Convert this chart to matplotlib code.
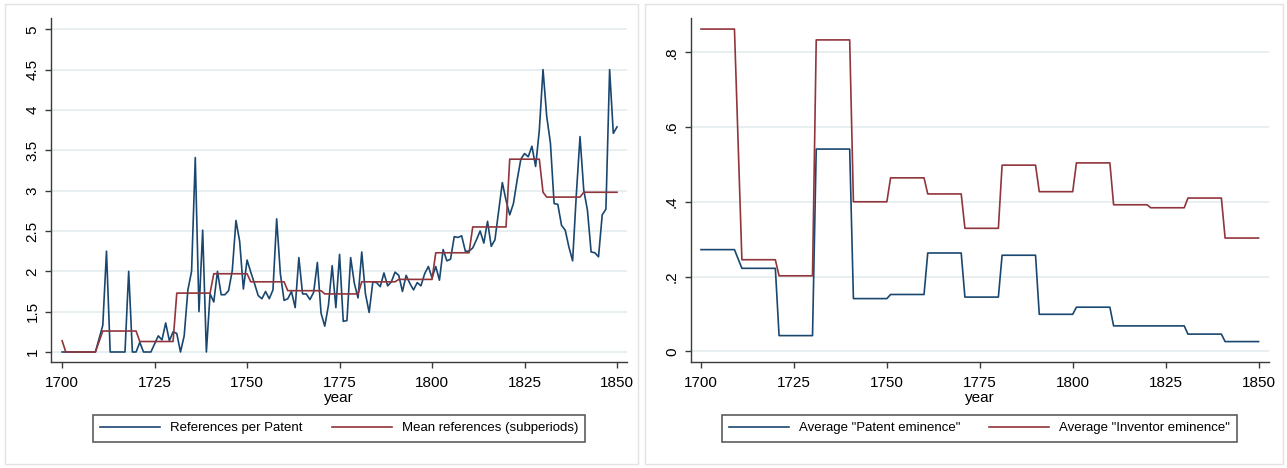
#!/usr/bin/env python3
"""References per patent and eminence measures by year, 1700-1850."""
import matplotlib.pyplot as plt
from matplotlib.patches import Rectangle

plt.rcParams['font.family'] = ['Liberation Sans', 'DejaVu Sans']

# no observations for 1710
years = list(range(1700, 1710)) + list(range(1711, 1851))

refs_per_patent = [
    1.00, 1.00, 1.00, 1.00, 1.00, 1.00, 1.00, 1.00, 1.00, 1.00,
    1.33, 2.25, 1.00, 1.00, 1.00, 1.00, 1.00, 2.00, 1.00, 1.00,
    1.12, 1.00, 1.00, 1.00, 1.10, 1.20, 1.15, 1.36, 1.14, 1.25,
    1.23, 1.00, 1.20, 1.77, 2.00, 3.41, 1.50, 2.51, 1.00, 1.72,
    1.62, 2.00, 1.71, 1.71, 1.76, 2.01, 2.63, 2.37, 1.78, 2.14,
    1.99, 1.85, 1.70, 1.66, 1.75, 1.66, 1.77, 2.65, 1.97, 1.64,
    1.66, 1.75, 1.55, 2.17, 1.72, 1.72, 1.65, 1.74, 2.11, 1.48,
    1.32, 1.58, 2.07, 1.55, 2.21, 1.38, 1.39, 2.17, 1.85, 1.67,
    2.24, 1.72, 1.49, 1.87, 1.86, 1.81, 1.98, 1.82, 1.87, 1.99,
    1.95, 1.75, 1.95, 1.85, 1.77, 1.86, 1.82, 1.97, 2.06, 1.92,
    2.06, 1.89, 2.27, 2.13, 2.15, 2.43, 2.42, 2.44, 2.25, 2.25,
    2.29, 2.39, 2.50, 2.35, 2.62, 2.31, 2.39, 2.74, 3.10, 2.88,
    2.70, 2.84, 3.13, 3.39, 3.46, 3.42, 3.55, 3.30, 3.75, 4.50,
    3.92, 3.59, 2.84, 2.83, 2.57, 2.51, 2.30, 2.13, 2.95, 3.67,
    3.01, 2.76, 2.24, 2.23, 2.18, 2.70, 2.77, 4.50, 3.71, 3.79,
]

mean_refs = [
    1.14, 1.00, 1.00, 1.00, 1.00, 1.00, 1.00, 1.00, 1.00, 1.00,
    1.26, 1.26, 1.26, 1.26, 1.26, 1.26, 1.26, 1.26, 1.26, 1.26,
    1.13, 1.13, 1.13, 1.13, 1.13, 1.13, 1.13, 1.13, 1.13, 1.13,
    1.73, 1.73, 1.73, 1.73, 1.73, 1.73, 1.73, 1.73, 1.73, 1.73,
    1.97, 1.97, 1.97, 1.97, 1.97, 1.97, 1.97, 1.97, 1.97, 1.97,
    1.87, 1.87, 1.87, 1.87, 1.87, 1.87, 1.87, 1.87, 1.87, 1.87,
    1.76, 1.76, 1.76, 1.76, 1.76, 1.76, 1.76, 1.76, 1.76, 1.76,
    1.72, 1.72, 1.72, 1.72, 1.72, 1.72, 1.72, 1.72, 1.72, 1.72,
    1.87, 1.87, 1.87, 1.87, 1.87, 1.87, 1.87, 1.87, 1.87, 1.87,
    1.90, 1.90, 1.90, 1.90, 1.90, 1.90, 1.90, 1.90, 1.90, 1.90,
    2.23, 2.23, 2.23, 2.23, 2.23, 2.23, 2.23, 2.23, 2.23, 2.23,
    2.55, 2.55, 2.55, 2.55, 2.55, 2.55, 2.55, 2.55, 2.55, 2.55,
    3.39, 3.39, 3.39, 3.39, 3.39, 3.39, 3.39, 3.39, 3.39, 2.98,
    2.92, 2.92, 2.92, 2.92, 2.92, 2.92, 2.92, 2.92, 2.92, 2.92,
    2.98, 2.98, 2.98, 2.98, 2.98, 2.98, 2.98, 2.98, 2.98, 2.98,
]

patent_eminence = [
    0.272, 0.272, 0.272, 0.272, 0.272, 0.272, 0.272, 0.272, 0.272, 0.272,
    0.222, 0.222, 0.222, 0.222, 0.222, 0.222, 0.222, 0.222, 0.222, 0.222,
    0.042, 0.042, 0.042, 0.042, 0.042, 0.042, 0.042, 0.042, 0.042, 0.042,
    0.541, 0.541, 0.541, 0.541, 0.541, 0.541, 0.541, 0.541, 0.541, 0.541,
    0.141, 0.141, 0.141, 0.141, 0.141, 0.141, 0.141, 0.141, 0.141, 0.141,
    0.152, 0.152, 0.152, 0.152, 0.152, 0.152, 0.152, 0.152, 0.152, 0.152,
    0.263, 0.263, 0.263, 0.263, 0.263, 0.263, 0.263, 0.263, 0.263, 0.263,
    0.145, 0.145, 0.145, 0.145, 0.145, 0.145, 0.145, 0.145, 0.145, 0.145,
    0.257, 0.257, 0.257, 0.257, 0.257, 0.257, 0.257, 0.257, 0.257, 0.257,
    0.099, 0.099, 0.099, 0.099, 0.099, 0.099, 0.099, 0.099, 0.099, 0.099,
    0.118, 0.118, 0.118, 0.118, 0.118, 0.118, 0.118, 0.118, 0.118, 0.118,
    0.068, 0.068, 0.068, 0.068, 0.068, 0.068, 0.068, 0.068, 0.068, 0.068,
    0.068, 0.068, 0.068, 0.068, 0.068, 0.068, 0.068, 0.068, 0.068, 0.068,
    0.046, 0.046, 0.046, 0.046, 0.046, 0.046, 0.046, 0.046, 0.046, 0.046,
    0.026, 0.026, 0.026, 0.026, 0.026, 0.026, 0.026, 0.026, 0.026, 0.026,
]

inventor_eminence = [
    0.862, 0.862, 0.862, 0.862, 0.862, 0.862, 0.862, 0.862, 0.862, 0.862,
    0.245, 0.245, 0.245, 0.245, 0.245, 0.245, 0.245, 0.245, 0.245, 0.245,
    0.202, 0.202, 0.202, 0.202, 0.202, 0.202, 0.202, 0.202, 0.202, 0.202,
    0.833, 0.833, 0.833, 0.833, 0.833, 0.833, 0.833, 0.833, 0.833, 0.833,
    0.400, 0.400, 0.400, 0.400, 0.400, 0.400, 0.400, 0.400, 0.400, 0.400,
    0.464, 0.464, 0.464, 0.464, 0.464, 0.464, 0.464, 0.464, 0.464, 0.464,
    0.421, 0.421, 0.421, 0.421, 0.421, 0.421, 0.421, 0.421, 0.421, 0.421,
    0.329, 0.329, 0.329, 0.329, 0.329, 0.329, 0.329, 0.329, 0.329, 0.329,
    0.498, 0.498, 0.498, 0.498, 0.498, 0.498, 0.498, 0.498, 0.498, 0.498,
    0.427, 0.427, 0.427, 0.427, 0.427, 0.427, 0.427, 0.427, 0.427, 0.427,
    0.504, 0.504, 0.504, 0.504, 0.504, 0.504, 0.504, 0.504, 0.504, 0.504,
    0.392, 0.392, 0.392, 0.392, 0.392, 0.392, 0.392, 0.392, 0.392, 0.392,
    0.384, 0.384, 0.384, 0.384, 0.384, 0.384, 0.384, 0.384, 0.384, 0.384,
    0.410, 0.410, 0.410, 0.410, 0.410, 0.410, 0.410, 0.410, 0.410, 0.410,
    0.303, 0.303, 0.303, 0.303, 0.303, 0.303, 0.303, 0.303, 0.303, 0.303,
]

x_ticks = [1700, 1725, 1750, 1775, 1800, 1825, 1850]
left_yticks = [1, 1.5, 2, 2.5, 3, 3.5, 4, 4.5, 5]
left_ylabels = ['1', '1.5', '2', '2.5', '3', '3.5', '4', '4.5', '5']
right_yticks = [0, 0.2, 0.4, 0.6, 0.8]
right_ylabels = ['0', '.2', '.4', '.6', '.8']

BLUE = '#1a476f'
RED = '#90353b'
GRID = '#e6eef0'
AXIS = '#3a3a3a'
W, H = 1287, 468


def style_axes(ax, yticks, ylabels):
    for side in ('top', 'right'):
        ax.spines[side].set_visible(False)
    for side in ('left', 'bottom'):
        ax.spines[side].set_color(AXIS)
        ax.spines[side].set_linewidth(1.0)
    ax.set_xticks(x_ticks)
    ax.set_yticks(yticks)
    ax.set_yticklabels(ylabels, rotation=90, va='center')
    ax.tick_params(axis='x', length=4.3, width=1, color=AXIS, pad=5.5, labelsize=11)
    ax.tick_params(axis='y', length=4.3, width=1, color=AXIS, pad=4.0, labelsize=11)
    ax.yaxis.grid(True, color=GRID, linewidth=1.3)
    ax.set_axisbelow(True)
    ax.set_xlabel('year', fontsize=11, labelpad=1)


fig = plt.figure(figsize=(W / 100, H / 100), dpi=100)

# light frames around the two graphs
for x0, x1 in [(5, 638), (645, 1283)]:
    fig.patches.append(Rectangle((x0 / W, 4 / H), (x1 - x0) / W, 460 / H,
                                 transform=fig.transFigure, fill=False,
                                 edgecolor='#e2e2e2', linewidth=1.0))

# left: references per patent
ax1 = fig.add_axes([51 / W, 106 / H, 576 / W, 344 / H])
ax1.plot(years, refs_per_patent, color=BLUE, linewidth=1.2, label='References per Patent')
ax1.plot(years, mean_refs, color=RED, linewidth=1.2, label='Mean references (subperiods)')
ax1.set_xlim(1697.0, 1852.7)
ax1.set_ylim(0.876, 5.14)
style_axes(ax1, left_yticks, left_ylabels)

# right: eminence
ax2 = fig.add_axes([690.6 / W, 106 / H, 578 / W, 344 / H])
ax2.plot(years, patent_eminence, color=BLUE, linewidth=1.2, label='Average "Patent eminence"')
ax2.plot(years, inventor_eminence, color=RED, linewidth=1.2, label='Average "Inventor eminence"')
ax2.set_xlim(1697.2, 1852.7)
ax2.set_ylim(-0.0286, 0.8916)
style_axes(ax2, right_yticks, right_ylabels)

for ax in (ax1, ax2):
    leg = ax.legend(loc='upper center', bbox_to_anchor=(0.5, -0.154), ncol=2,
                    fontsize=9.5, frameon=True, fancybox=False, borderaxespad=0,
                    handlelength=4.55, handletextpad=0.75, columnspacing=2.2,
                    borderpad=0.55)
    leg.get_frame().set_edgecolor('#333333')
    leg.get_frame().set_linewidth(1.2)

plt.savefig('out.png', dpi=100)
